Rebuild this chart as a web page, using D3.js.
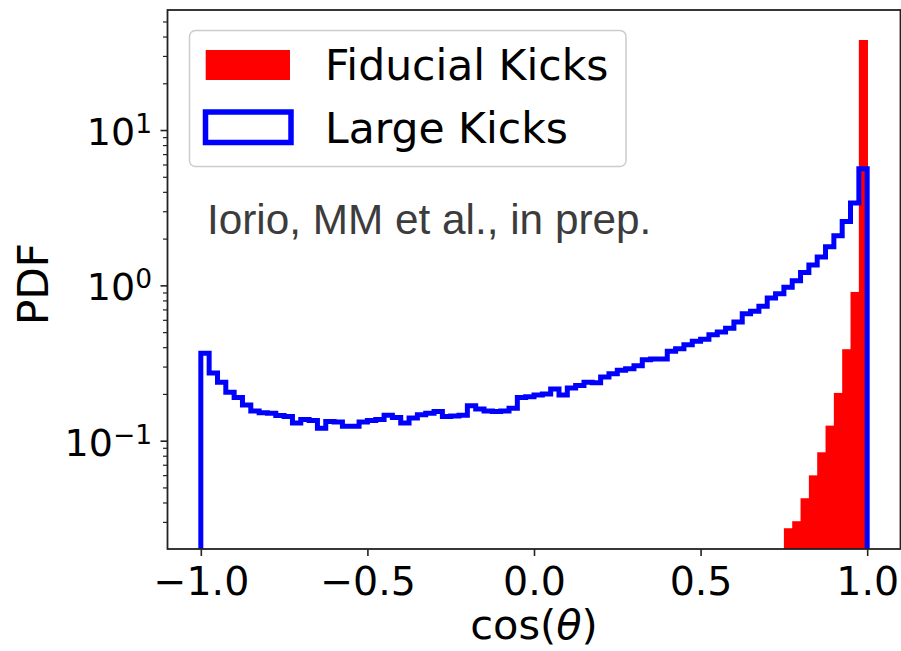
<!DOCTYPE html>
<html>
<head>
<meta charset="utf-8">
<script src="https://cdn.jsdelivr.net/npm/d3@7"></script>
<style>
  body { margin: 0; background: #fff; }
  svg { display: block; }
</style>
</head>
<body>
<script>
// Large-kick misalignment PDF, 80 bins of width 0.025 from -1 to 1
const largeKicks = [
  0.366, 0.273, 0.238, 0.205, 0.190, 0.170, 0.155, 0.151, 0.150, 0.145,
  0.143, 0.130, 0.137, 0.135, 0.120, 0.133, 0.132, 0.124, 0.124, 0.132,
  0.135, 0.137, 0.146, 0.141, 0.130, 0.140, 0.147, 0.150, 0.154, 0.143,
  0.144, 0.146, 0.168, 0.160, 0.155, 0.154, 0.155, 0.162, 0.190, 0.192,
  0.197, 0.200, 0.215, 0.197, 0.218, 0.227, 0.238, 0.236, 0.257, 0.270,
  0.284, 0.290, 0.304, 0.332, 0.335, 0.336, 0.376, 0.390, 0.415, 0.436,
  0.450, 0.480, 0.500, 0.530, 0.580, 0.657, 0.680, 0.733, 0.830, 0.884,
  0.971, 1.07, 1.21, 1.35, 1.52, 1.77, 2.09, 2.58, 3.39, 5.64
];
const largeStart = -1.0;
const largeBinWidth = 0.025;

// Fiducial-kick PDF (non-empty bins only)
const fiducialEdges = [0.75, 0.775, 0.80, 0.825, 0.85, 0.875, 0.90, 0.925, 0.95, 0.975, 1.0];
const fiducialKicks = [0.0273, 0.0303, 0.0426, 0.0598, 0.0842, 0.125, 0.203, 0.388, 0.907, 38.0];

const xTicks = [-1.0, -0.5, 0.0, 0.5, 1.0];
const xTickLabels = ["\u22121.0", "\u22120.5", "0.0", "0.5", "1.0"];
const yTicks = [0.1, 1, 10];
const yTickExponents = ["\u22121", "0", "1"];
const legendLabels = ["Fiducial Kicks", "Large Kicks"];
const noteText = "Iorio, MM et al., in prep.";

const W = 901, H = 651;
const plot = { left: 167.5, right: 900.5, top: 10, bottom: 549 };

const svg = d3.select("body").append("svg")
  .attr("width", W).attr("height", H)
  .style("font-family", "'DejaVu Sans', sans-serif");

const x = d3.scaleLinear().domain([-1.1, 1.1]).range([plot.left, plot.right]);
const y = d3.scaleLog().domain([0.02007, 59.27]).range([plot.bottom, plot.top]);

svg.append("defs").append("clipPath").attr("id", "plotClip")
  .append("rect")
  .attr("x", plot.left).attr("y", plot.top)
  .attr("width", plot.right - plot.left).attr("height", plot.bottom - plot.top);

const g = svg.append("g").attr("clip-path", "url(#plotClip)");

// Fiducial: filled bars
g.selectAll("rect.fid").data(fiducialKicks).enter().append("rect")
  .attr("class", "fid")
  .attr("x", (d, i) => x(fiducialEdges[i]))
  .attr("width", (d, i) => x(fiducialEdges[i + 1]) - x(fiducialEdges[i]) + 0.8)
  .attr("y", d => y(d))
  .attr("height", d => plot.bottom + 10 - y(d))
  .attr("fill", "#ff0000");

// Large kicks: step outline
const stepPts = [[largeStart, 0.005]];
largeKicks.forEach((v, i) => stepPts.push([largeStart + i * largeBinWidth, v]));
stepPts.push([largeStart + largeKicks.length * largeBinWidth, largeKicks[largeKicks.length - 1]]);
stepPts.push([largeStart + largeKicks.length * largeBinWidth, 0.005]);

const stepLine = d3.line()
  .x(d => x(d[0]))
  .y(d => y(d[1]))
  .curve(d3.curveStepAfter);

g.append("path")
  .attr("d", stepLine(stepPts))
  .attr("fill", "none")
  .attr("stroke", "#0000ff")
  .attr("stroke-width", 5)
  .attr("stroke-linejoin", "miter");

// Axes
const xAxis = d3.axisBottom(x).tickValues(xTicks).tickSize(7).tickPadding(8)
  .tickFormat((d, i) => xTickLabels[i]);
const xg = svg.append("g").attr("transform", `translate(0,${plot.bottom})`).call(xAxis);
xg.select(".domain").remove();
xg.selectAll(".tick line").attr("stroke", "#222").attr("stroke-width", 1.6);
xg.selectAll(".tick text").attr("fill", "#000")
  .style("font-family", "'DejaVu Sans', sans-serif").style("font-size", "39.5px")
  .attr("y", 46).attr("dy", null);

const yMinor = [];
[-2, -1, 0, 1].forEach(e => {
  for (let m = 2; m <= 9; m++) {
    const v = m * Math.pow(10, e);
    if (v >= y.domain()[0] && v <= y.domain()[1]) yMinor.push(v);
  }
});
const yMinorAxis = d3.axisLeft(y).tickValues(yMinor).tickSize(4.5).tickFormat("");
const ymg = svg.append("g").attr("transform", `translate(${plot.left},0)`).call(yMinorAxis);
ymg.select(".domain").remove();
ymg.selectAll(".tick line").attr("stroke", "#222").attr("stroke-width", 1.2);

const yAxis = d3.axisLeft(y).tickValues(yTicks).tickSize(7).tickFormat("");
const yg = svg.append("g").attr("transform", `translate(${plot.left},0)`).call(yAxis);
yg.select(".domain").remove();
yg.selectAll(".tick line").attr("stroke", "#222").attr("stroke-width", 1.6);

// y tick labels as 10^k
yTicks.forEach((v, i) => {
  const t = svg.append("text")
    .attr("x", 152).attr("y", y(v) + 15)
    .attr("text-anchor", "end")
    .style("font-size", "38px").attr("fill", "#000");
  t.append("tspan").text("10");
  t.append("tspan").attr("dy", -12).style("font-size", "26.5px").text(yTickExponents[i]);
});

// Frame
svg.append("rect")
  .attr("x", plot.left).attr("y", plot.top)
  .attr("width", plot.right - plot.left).attr("height", plot.bottom - plot.top)
  .attr("fill", "none").attr("stroke", "#222").attr("stroke-width", 1.8);

// Axis labels
const xl = svg.append("text")
  .attr("x", (x(-1) + x(1)) / 2).attr("y", 639)
  .attr("text-anchor", "middle").style("font-size", "41.5px").attr("fill", "#000");
xl.append("tspan").text("cos(");
xl.append("tspan").style("font-style", "italic").text("\u03b8");
xl.append("tspan").text(")");

svg.append("text")
  .attr("transform", "translate(48,284) rotate(-90)")
  .attr("text-anchor", "middle").style("font-size", "42px").attr("fill", "#000")
  .text("PDF");

// Annotation
svg.append("text")
  .attr("x", 207).attr("y", 234)
  .style("font-family", "'Liberation Sans', Arial, sans-serif")
  .style("font-size", "42.3px").attr("fill", "#3c3c3c")
  .text(noteText);

// Legend
const lg = svg.append("g");
lg.append("rect")
  .attr("x", 189.5).attr("y", 30.5).attr("width", 436.5).attr("height", 136)
  .attr("rx", 6).attr("ry", 6)
  .attr("fill", "#fff").attr("fill-opacity", 0.8)
  .attr("stroke", "#cccccc").attr("stroke-width", 1.5);
lg.append("rect")
  .attr("x", 205.7).attr("y", 50).attr("width", 84.3).attr("height", 30)
  .attr("fill", "#ff0000");
lg.append("rect")
  .attr("x", 205.5).attr("y", 112).attr("width", 85.5).attr("height", 30.5)
  .attr("fill", "none").attr("stroke", "#0000ff").attr("stroke-width", 5.5);
lg.append("text").attr("x", 325).attr("y", 80)
  .style("font-size", "42.5px").attr("fill", "#000").text(legendLabels[0]);
lg.append("text").attr("x", 325).attr("y", 143)
  .style("font-size", "42.5px").attr("fill", "#000").text(legendLabels[1]);
</script>
</body>
</html>
